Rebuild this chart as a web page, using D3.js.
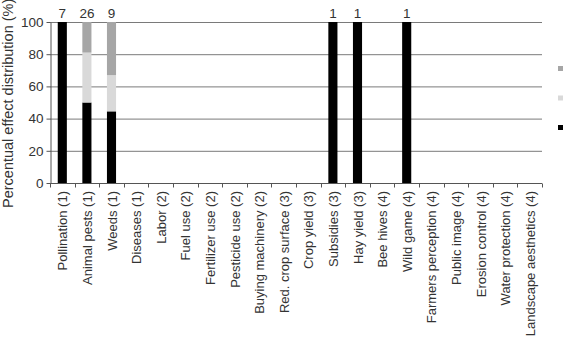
<!DOCTYPE html>
<html>
<head>
<meta charset="utf-8">
<script src="https://cdn.jsdelivr.net/npm/d3@7"></script>
<style>
  body { margin: 0; background: #fff; }
  text { font-family: "Liberation Sans", Arial, sans-serif; fill: #333; }
</style>
</head>
<body>
<svg id="chart"></svg>
<script>
const categories = ["Pollination (1)", "Animal pests (1)", "Weeds (1)", "Diseases (1)", "Labor (2)",
  "Fuel use (2)", "Fertilizer use (2)", "Pesticide use (2)", "Buying machinery (2)", "Red. crop surface (3)",
  "Crop yield (3)", "Subsidies (3)", "Hay yield (3)", "Bee hives (4)", "Wild game (4)",
  "Farmers perception (4)", "Public image (4)", "Erosion control (4)", "Water protection (4)", "Landscape aesthetics (4)"];
const blackPart = [100, 50, 44.5, 0, 0, 0, 0, 0, 0, 0, 0, 100, 100, 0, 100, 0, 0, 0, 0, 0];
const lightPart = [0, 31, 22.5, 0, 0, 0, 0, 0, 0, 0, 0, 0, 0, 0, 0, 0, 0, 0, 0, 0];
const greyPart = [0, 19, 33, 0, 0, 0, 0, 0, 0, 0, 0, 0, 0, 0, 0, 0, 0, 0, 0, 0];
const counts = [7, 26, 9, null, null, null, null, null, null, null, null, 1, 1, null, 1, null, null, null, null, null];
const yTicks = [0, 20, 40, 60, 80, 100];

const keys = ["black", "light", "grey"];
const colors = {black: "#000", light: "#d9d9d9", grey: "#a6a6a6"};

const margin = {top: 22, right: 24, bottom: 154, left: 50};
const width = 566, height = 337;

const svg = d3.select("#chart").attr("width", width).attr("height", height);

const x = d3.scaleBand()
  .domain(categories)
  .range([margin.left, width - margin.right])
  .padding(0);

const y = d3.scaleLinear()
  .domain([0, 100])
  .range([height - margin.bottom, margin.top]);

const rows = categories.map((c, i) => ({cat: c, black: blackPart[i], light: lightPart[i], grey: greyPart[i]}));
const stacked = d3.stack().keys(keys)(rows);

// gridlines
svg.append("g")
  .selectAll("line")
  .data(yTicks.filter(d => d > 0))
  .enter().append("line")
  .attr("x1", margin.left)
  .attr("x2", width - margin.right)
  .attr("y1", d => y(d) + 0.5)
  .attr("y2", d => y(d) + 0.5)
  .attr("stroke", "#7a7a7a")
  .attr("stroke-width", 1);

const barW = x.bandwidth() * 0.37;

svg.append("g")
  .selectAll("g")
  .data(stacked)
  .enter().append("g")
  .attr("fill", d => colors[d.key])
  .selectAll("rect")
  .data(d => d)
  .enter().append("rect")
  .attr("x", d => x(d.data.cat) + (x.bandwidth() - barW) / 2)
  .attr("width", barW)
  .attr("y", d => y(d[1]))
  .attr("height", d => y(d[0]) - y(d[1]));

// counts above bars
svg.append("g")
  .selectAll("text")
  .data(categories.map((c, i) => [c, counts[i]]).filter(d => d[1] != null))
  .enter().append("text")
  .attr("x", d => x(d[0]) + x.bandwidth() / 2)
  .attr("y", y(100) - 4)
  .attr("text-anchor", "middle")
  .attr("font-size", 13.5)
  .text(d => d[1]);

// y axis
const yAxis = svg.append("g")
  .attr("transform", `translate(${margin.left + 0.5},0)`)
  .call(d3.axisLeft(y).tickValues(yTicks).tickSize(4).tickSizeOuter(0).tickPadding(3));
yAxis.select(".domain").attr("stroke", "#555");
yAxis.selectAll(".tick line").attr("stroke", "#555");
yAxis.selectAll(".tick text").attr("font-size", 13.5).attr("font-family", "Liberation Sans, Arial, sans-serif").attr("fill", "#333");

// x axis: baseline with ticks at category boundaries
const bottom = y(0) + 0.5;
svg.append("line")
  .attr("x1", margin.left)
  .attr("x2", width - margin.right)
  .attr("y1", bottom)
  .attr("y2", bottom)
  .attr("stroke", "#555");

const bounds = categories.map(c => x(c)).concat([x(categories[categories.length - 1]) + x.bandwidth()]);
svg.append("g")
  .selectAll("line")
  .data(bounds)
  .enter().append("line")
  .attr("x1", d => Math.round(d) + 0.5)
  .attr("x2", d => Math.round(d) + 0.5)
  .attr("y1", bottom)
  .attr("y2", bottom + 4)
  .attr("stroke", "#555");

svg.append("g")
  .selectAll("text")
  .data(categories)
  .enter().append("text")
  .attr("transform", d => `translate(${x(d) + x.bandwidth() / 2 + 5},${bottom + 7.5}) rotate(-90)`)
  .attr("text-anchor", "end")
  .attr("font-size", 13)
  .text(d => d);

// y axis title
svg.append("text")
  .attr("transform", `translate(13,208) rotate(-90)`)
  .attr("text-anchor", "start")
  .attr("font-size", 14.5)
  .text("Percentual effect distribution (%)");

// legend swatches (labels fall outside the frame)
const legendKeys = ["grey", "light", "black"];
svg.append("g")
  .selectAll("rect")
  .data(legendKeys)
  .enter().append("rect")
  .attr("x", 558)
  .attr("y", (d, i) => 66 + i * 29.5)
  .attr("width", 5)
  .attr("height", 5)
  .attr("fill", d => colors[d]);
</script>
</body>
</html>
